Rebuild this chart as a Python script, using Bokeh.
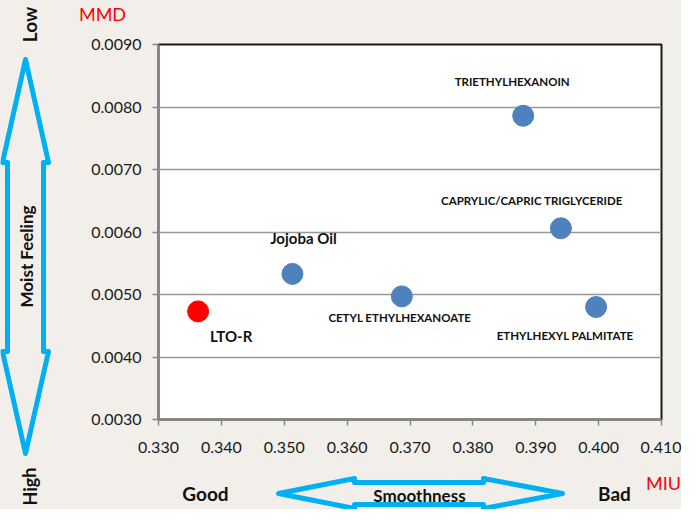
from bokeh.plotting import figure
from bokeh.layouts import row, column
from bokeh.models import ColumnDataSource, FixedTicker, NumeralTickFormatter, Range1d
from bokeh.core.properties import value, field
from bokeh.embed import file_html
from bokeh.resources import INLINE

# ---- data ----
names = ["LTO-R", "Jojoba Oil", "CETYL ETHYLHEXANOATE", "TRIETHYLHEXANOIN",
         "CAPRYLIC/CAPRIC TRIGLYCERIDE", "ETHYLHEXYL PALMITATE"]
miu = [0.3363, 0.3513, 0.3687, 0.3880, 0.3940, 0.3996]
mmd = [0.00473, 0.00533, 0.00497, 0.00786, 0.00606, 0.00480]
x_ticks = [0.330, 0.340, 0.350, 0.360, 0.370, 0.380, 0.390, 0.400, 0.410]
y_ticks = [0.0030, 0.0040, 0.0050, 0.0060, 0.0070, 0.0080, 0.0090]

# ---- styles ----
colors = ["#FF0000", "#4F81BD", "#4F81BD", "#4F81BD", "#4F81BD", "#4F81BD"]
label_sizes = ["15px", "15px", "11.5px", "11.5px", "11.5px", "11.5px"]
label_dx = [33, 11, -2, -11, -29, -31]
label_dy = [25, -36, 21, -34, -28, 28]

BG = "#F2EFEA"
ARROW = "#00B0F0"
FONT = "Lato"

# page layout (pixels, page coordinates)
PX0, PY0 = 8, 8
LEFT_W = 60
TOP_STRIP_H = 34
TOP_H = 460
TOTAL_W, TOTAL_H = 681, 509
FL, FR, FT, FB = 166, 669, 52, 427  # frame edges

main_w = TOTAL_W - LEFT_W
main_left = PX0 + LEFT_W
main_top = PY0 + TOP_STRIP_H
main_h = TOP_H - TOP_STRIP_H


def no_align(f):
    try:
        f.frame_align = False
    except Exception:
        pass


p = figure(width=main_w, height=main_h, output_backend="svg", toolbar_location=None, title=None,
           x_range=Range1d(x_ticks[0], x_ticks[-1]), y_range=Range1d(y_ticks[0], y_ticks[-1]),
           min_border_left=FL - main_left, min_border_right=main_left + main_w - FR,
           min_border_top=FT - main_top, min_border_bottom=PY0 + TOP_H - FB)
no_align(p)
p.background_fill_color = "white"
p.border_fill_color = BG
p.outline_line_color = "#1a1a1a"
p.outline_line_width = 2

for ax in (p.xaxis[0], p.yaxis[0]):
    ax.axis_line_color = "#868686"
    ax.axis_line_width = 2
    ax.major_tick_line_color = "#868686"
    ax.major_tick_line_width = 1.5
    ax.major_tick_in = 0
    ax.major_tick_out = 6
    ax.minor_tick_line_color = None
    ax.major_label_text_font = FONT
    ax.major_label_text_font_size = "16px"
    ax.major_label_text_color = "#1a1a1a"

p.xaxis.ticker = FixedTicker(ticks=x_ticks)
p.yaxis.ticker = FixedTicker(ticks=y_ticks)
p.xaxis.formatter = NumeralTickFormatter(format="0.000")
p.yaxis.formatter = NumeralTickFormatter(format="0.0000")
p.xaxis.major_label_standoff = 16
p.yaxis.major_label_standoff = 11

p.xgrid.grid_line_color = None
p.ygrid.grid_line_color = "#999999"
p.ygrid.grid_line_width = 1.5
p.ygrid.ticker = FixedTicker(ticks=y_ticks)

src = ColumnDataSource(dict(name=names, miu=miu, mmd=mmd, color=colors,
                            fs=label_sizes, dx=label_dx, dy=label_dy))
p.scatter(x="miu", y="mmd", size=21, fill_color="color", line_color="color", source=src)
p.text(x="miu", y="mmd", text="name", source=src, text_font=value(FONT), text_font_style="bold",
       text_font_size=field("fs"), x_offset=field("dx"), y_offset=field("dy"),
       text_align="center", text_baseline="middle", text_color="#111111")


# ---- decoration panels (ranges in page pixels, y downward) ----
def deco_fig(x0, y0, w, h):
    f = figure(width=w, height=h, output_backend="svg", toolbar_location=None, title=None,
               x_range=Range1d(x0, x0 + w), y_range=Range1d(y0 + h, y0),
               x_axis_type=None, y_axis_type=None,
               min_border=0, min_border_left=0, min_border_right=0,
               min_border_top=0, min_border_bottom=0)
    no_align(f)
    f.background_fill_color = None
    f.border_fill_color = BG
    f.outline_line_color = None
    f.xgrid.grid_line_color = None
    f.ygrid.grid_line_color = None
    return f


def add_text(f, text, xp, yp, size, color="#111111", bold=True, angle=0.0):
    f.text(x=[xp], y=[yp], text=[text], text_font=value(FONT), text_font_size=size,
           text_font_style="bold" if bold else "normal", text_color=color,
           text_align="center", text_baseline="middle", angle=angle)


def add_arrow(f, pts):
    f.patch(x=[a for a, b in pts], y=[b for a, b in pts], fill_color=None,
            line_color=ARROW, line_width=5, line_join="round")


left = deco_fig(PX0, PY0, LEFT_W, TOP_H)
add_arrow(left, [(33, 67), (56, 170), (51, 170), (51, 359), (56, 359), (33, 461),
                 (10, 359), (15, 359), (15, 170), (10, 170)])
add_text(left, "Low", 37, 32, "19px", angle=1.5708)
add_text(left, "Moist Feeling", 34, 264, "17px", angle=1.5708)

top = deco_fig(main_left, PY0, main_w, TOP_STRIP_H)
add_text(top, "MMD", 110, 21, "18px", color="#FF0000", bold=False)

bottom = deco_fig(PX0, PY0 + TOP_H, TOTAL_W, TOTAL_H - TOP_H)
cy = 501
add_arrow(bottom, [(286, cy), (362, cy - 15), (362, cy - 11), (491, cy - 11), (491, cy - 15),
                   (570, cy), (491, cy + 15), (491, cy + 11), (362, cy + 11), (362, cy + 15)])
add_text(bottom, "High", 37, 494, "18px", angle=1.5708)
add_text(bottom, "Good", 213, 501, "19px")
add_text(bottom, "Bad", 622, 501, "19px")
add_text(bottom, "Smoothness", 427, 503, "17px")
add_text(bottom, "MIU", 671, 490, "18px", color="#FF0000", bold=False)

bg_style = {"background-color": BG}
inner = column(top, p, spacing=0, styles=bg_style)
upper = row(left, inner, spacing=0, styles=bg_style)
layout = column(upper, bottom, spacing=0, styles=bg_style)

open("out.html", "w").write(file_html(layout, INLINE))
